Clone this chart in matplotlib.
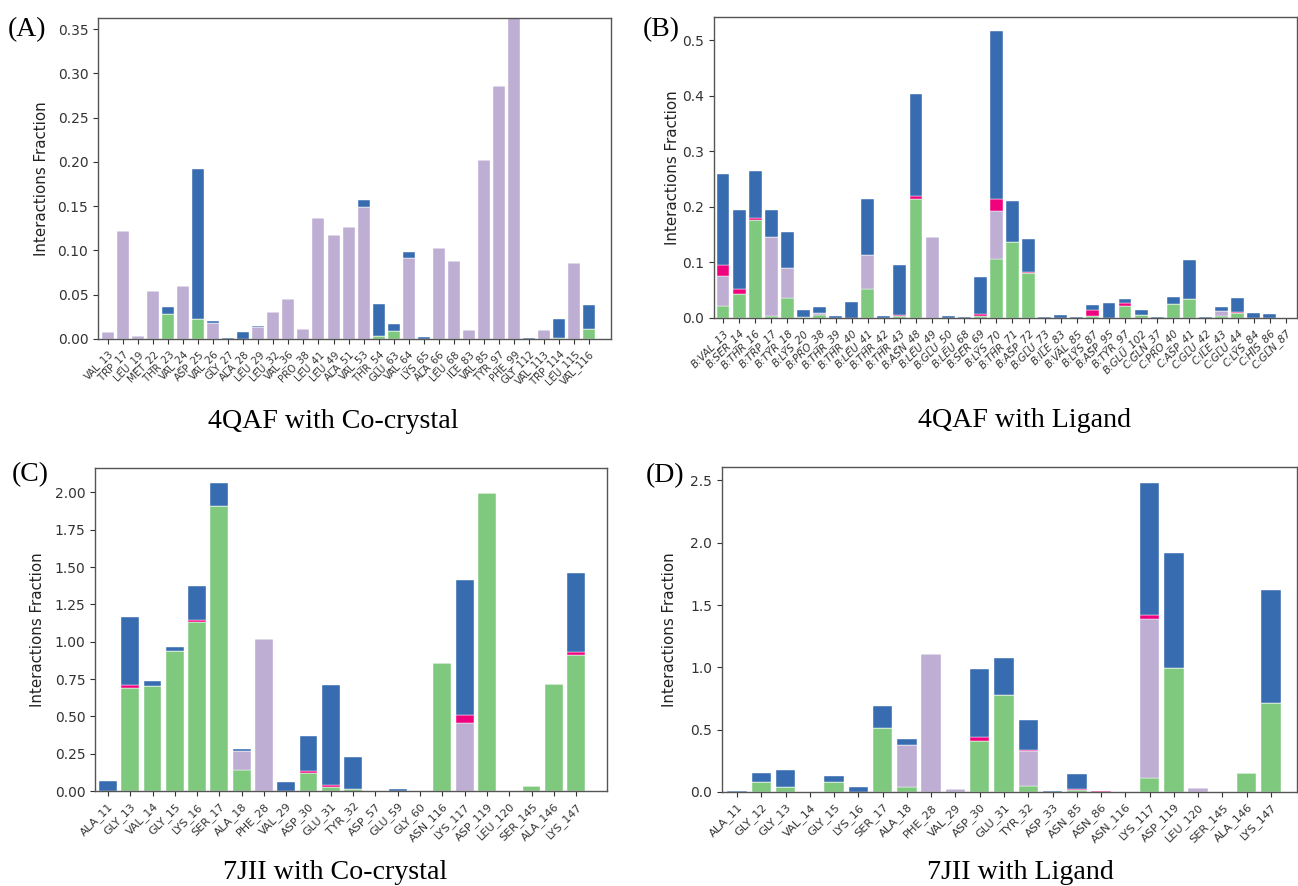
import numpy as np
import matplotlib
matplotlib.use("Agg")
import matplotlib.pyplot as plt

# Stack colours (bottom to top): H-bonds, hydrophobic, ionic, water bridges
COLORS = ['#7fc97f', '#beaed4', '#f0027f', '#386cb0']

# (A) 4QAF with Co-crystal
res_a = ['VAL_13', 'TRP_17', 'LEU_19', 'MET_22', 'THR_23', 'VAL_24', 'ASP_25', 'VAL_26',
         'GLY_27', 'ALA_28', 'LEU_29', 'LEU_32', 'VAL_36', 'PRO_38', 'LEU_41', 'LEU_49',
         'ALA_51', 'VAL_53', 'THR_54', 'GLU_63', 'VAL_64', 'LYS_65', 'ALA_66', 'LEU_68',
         'ILE_83', 'VAL_85', 'TYR_97', 'PHE_99', 'GLY_112', 'VAL_113', 'TRP_114', 'LEU_115',
         'VAL_116']
hb_a = [0, 0, 0, 0, 0.028, 0, 0.023, 0, 0, 0, 0, 0, 0, 0, 0, 0,
        0, 0, 0.003, 0.0094, 0, 0, 0, 0, 0, 0, 0, 0, 0, 0, 0.001, 0, 0.0113]
hyd_a = [0.0075, 0.122, 0.003, 0.054, 0, 0.060, 0, 0.018, 0, 0, 0.013, 0.031, 0.045, 0.011,
         0.137, 0.117, 0.126, 0.149, 0, 0, 0.0914, 0, 0.1027, 0.088, 0.0105, 0.2024,
         0.2863, 0.37, 0, 0.0105, 0, 0.0854, 0]
ion_a = [0] * 33
wat_a = [0, 0, 0, 0, 0.0085, 0, 0.169, 0.002, 0.001, 0.008, 0.002, 0, 0, 0, 0, 0,
         0, 0.008, 0.0365, 0.008, 0.0066, 0.002, 0, 0, 0, 0, 0, 0, 0.001, 0, 0.022, 0, 0.027]

# (B) 4QAF with Ligand
res_b = ['B:VAL_13', 'B:SER_14', 'B:THR_16', 'B:TRP_17', 'B:TYR_18', 'B:LYS_20', 'B:PRO_38',
         'B:THR_39', 'B:THR_40', 'B:LEU_41', 'B:THR_42', 'B:THR_43', 'B:ASN_48', 'B:LEU_49',
         'B:GLU_50', 'B:LEU_68', 'B:SER_69', 'B:LYS_70', 'B:THR_71', 'B:ASP_72', 'B:GLU_73',
         'B:ILE_83', 'B:VAL_85', 'B:LYS_87', 'B:ASP_95', 'B:TYR_97', 'B:GLU_102', 'C:GLN_37',
         'C:PRO_40', 'C:ASP_41', 'C:GLU_42', 'C:ILE_43', 'C:GLU_44', 'C:LYS_84', 'C:HIS_86',
         'C:GLN_87']
hb_b = [0.021, 0.043, 0.177, 0.003, 0.036, 0.002, 0.005, 0, 0, 0.052, 0, 0.003, 0.214, 0,
        0, 0, 0.004, 0.106, 0.136, 0.081, 0, 0, 0, 0.003, 0, 0.022, 0.005, 0,
        0.026, 0.035, 0, 0.004, 0.009, 0, 0, 0]
hyd_b = [0.055, 0, 0, 0.143, 0.054, 0, 0.004, 0, 0, 0.062, 0, 0, 0, 0.146,
         0, 0, 0, 0.086, 0, 0, 0, 0, 0, 0, 0, 0, 0, 0,
         0, 0, 0, 0.008, 0, 0, 0, 0]
ion_b = [0.020, 0.010, 0.003, 0, 0, 0, 0, 0, 0, 0, 0, 0.002, 0.006, 0,
         0, 0, 0.003, 0.022, 0, 0.002, 0, 0, 0, 0.012, 0, 0.005, 0, 0,
         0, 0, 0, 0, 0.002, 0, 0, 0]
wat_b = [0.164, 0.141, 0.084, 0.048, 0.065, 0.012, 0.011, 0.003, 0.029, 0.100, 0.003, 0.090,
         0.184, 0, 0.0035, 0.002, 0.066, 0.302, 0.074, 0.059, 0.001, 0.005, 0.0024, 0.009,
         0.027, 0.007, 0.009, 0.0024, 0.011, 0.070, 0.001, 0.008, 0.025, 0.009, 0.007, 0]

# (C) 7JII with Co-crystal
res_c = ['ALA_11', 'GLY_13', 'VAL_14', 'GLY_15', 'LYS_16', 'SER_17', 'ALA_18', 'PHE_28',
         'VAL_29', 'ASP_30', 'GLU_31', 'TYR_32', 'ASP_57', 'GLU_59', 'GLY_60', 'ASN_116',
         'LYS_117', 'ASP_119', 'LEU_120', 'SER_145', 'ALA_146', 'LYS_147']
hb_c = [0, 0.693, 0.704, 0.936, 1.133, 1.911, 0.141, 0, 0, 0.123, 0.029, 0.011,
        0, 0, 0, 0.854, 0, 1.996, 0, 0.036, 0.715, 0.912]
hyd_c = [0, 0, 0, 0, 0, 0, 0.129, 1.017, 0, 0, 0, 0,
         0, 0, 0, 0, 0.456, 0, 0, 0, 0, 0]
ion_c = [0, 0.015, 0, 0, 0.013, 0, 0, 0, 0, 0.013, 0.009, 0,
         0, 0, 0, 0, 0.054, 0, 0, 0, 0, 0.018]
wat_c = [0.069, 0.458, 0.031, 0.027, 0.228, 0.152, 0.009, 0, 0.060, 0.233, 0.673, 0.215,
         0, 0.013, 0, 0, 0.905, 0, 0, 0, 0, 0.531]

# (D) 7JII with Ligand
res_d = ['ALA_11', 'GLY_12', 'GLY_13', 'VAL_14', 'GLY_15', 'LYS_16', 'SER_17', 'ALA_18',
         'PHE_28', 'VAL_29', 'ASP_30', 'GLU_31', 'TYR_32', 'ASP_33', 'ASN_85', 'ASN_86',
         'ASN_116', 'LYS_117', 'ASP_119', 'LEU_120', 'SER_145', 'ALA_146', 'LYS_147']
hb_d = [0, 0.080, 0.037, 0, 0.080, 0, 0.515, 0.037, 0, 0, 0.411, 0.779,
        0.045, 0, 0.013, 0, 0, 0.112, 0.995, 0, 0, 0.155, 0.712]
hyd_d = [0, 0, 0, 0, 0, 0, 0, 0.339, 1.107, 0.024, 0, 0,
         0.281, 0, 0, 0, 0, 1.273, 0, 0.029, 0, 0, 0]
ion_d = [0, 0, 0.005, 0, 0, 0, 0, 0, 0, 0, 0.032, 0,
         0.010, 0, 0.014, 0.005, 0, 0.032, 0, 0, 0, 0, 0]
wat_d = [0.011, 0.075, 0.134, 0, 0.045, 0.043, 0.176, 0.046, 0, 0, 0.547, 0.294,
         0.240, 0.008, 0.114, 0, 0, 1.064, 0.923, 0, 0.003, 0, 0.905]


def stacked(ax, labels, series, ylim, yticks, fmt, xlim, xfs, italic=False, ylab_x=-0.09):
    x = np.arange(len(labels))
    bottom = np.zeros(len(labels))
    for vals, col in zip(series, COLORS):
        vals = np.array(vals, dtype=float)
        ax.bar(x, vals, 0.8, bottom=bottom, color=col, edgecolor='white', linewidth=0.3)
        bottom += vals
    ax.set_xlim(*xlim)
    ax.set_ylim(*ylim)
    ax.set_yticks(yticks)
    ax.set_yticklabels([fmt.format(t) for t in yticks], fontsize=10, color='#222222')
    ax.set_xticks(x)
    ax.set_xticklabels(labels, rotation=45, ha='right', rotation_mode='anchor',
                       fontsize=xfs, color='#333333', style='italic' if italic else 'normal')
    ax.tick_params(axis='both', length=3.5, width=0.8, colors='#333333')
    ax.set_ylabel('Interactions Fraction', fontsize=10.8, color='#222222')
    ax.yaxis.set_label_coords(ylab_x, 0.5)
    for s in ax.spines.values():
        s.set_color('#555555')
        s.set_linewidth(1.0)


fig = plt.figure(figsize=(12.98, 8.86), dpi=100)

ax_a = fig.add_axes([0.0755, 0.6174, 0.3952, 0.3623])
stacked(ax_a, res_a, [hb_a, hyd_a, ion_a, wat_a], (0, 0.3626),
        np.arange(0, 0.351, 0.05), '{:.2f}', (-0.67, 33.46), 7.3, ylab_x=-0.096)

ax_b = fig.add_axes([0.5501, 0.6411, 0.4492, 0.3397])
stacked(ax_b, res_b, [hb_b, hyd_b, ion_b, wat_b], (0, 0.542),
        np.arange(0, 0.51, 0.1), '{:.1f}', (-0.56, 35.7), 7.5, italic=True, ylab_x=-0.058)

ax_c = fig.add_axes([0.0732, 0.1072, 0.3945, 0.3646])
stacked(ax_c, res_c, [hb_c, hyd_c, ion_c, wat_c], (0, 2.163),
        np.arange(0, 2.01, 0.25), '{:.2f}', (-0.58, 22.39), 8, ylab_x=-0.098)

ax_d = fig.add_axes([0.5562, 0.1061, 0.4430, 0.3668])
stacked(ax_d, res_d, [hb_d, hyd_d, ion_d, wat_d], (0, 2.607),
        np.arange(0, 2.51, 0.5), '{:.1f}', (-0.62, 23.07), 8.2, ylab_x=-0.078)

serif = ['Liberation Serif', 'DejaVu Serif']
H = 886.0
W = 1298.0
for txt, cx, by in [('4QAF with Co-crystal', 333, 428), ('4QAF with Ligand', 1025, 427),
                    ('7JII with Co-crystal', 335, 879), ('7JII with Ligand', 1020, 879)]:
    fig.text(cx / W, 1 - by / H, txt, family=serif, fontsize=20.2, ha='center', va='baseline')

for txt, lx, by in [('(A)', 8, 36), ('(B)', 643, 36), ('(C)', 12, 481), ('(D)', 646, 482)]:
    fig.text(lx / W, 1 - by / H, txt, family=serif, fontsize=20, ha='left', va='baseline')

fig.savefig('out.png', dpi=100)
